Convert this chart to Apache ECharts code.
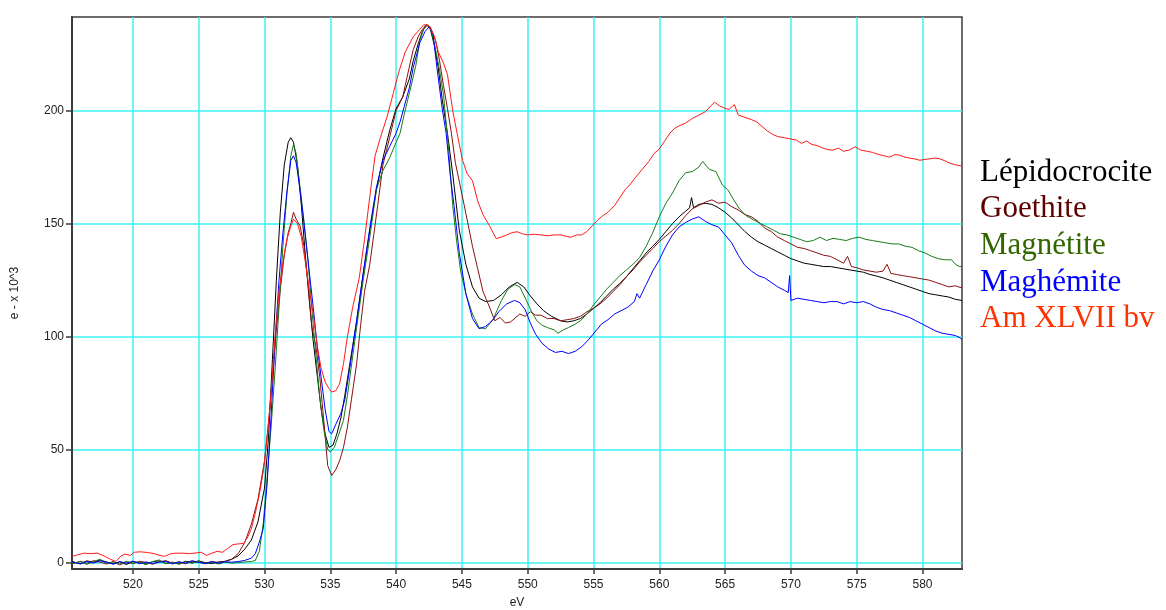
<!DOCTYPE html>
<html><head><meta charset="utf-8">
<script src="https://cdn.jsdelivr.net/npm/echarts@6/dist/echarts.min.js"></script>
<style>html,body{margin:0;padding:0;background:#fff}#c{width:1166px;height:610px}</style>
</head><body><div id="c"></div><script>
const xTicks = [520, 525, 530, 535, 540, 545, 550, 555, 560, 565, 570, 575, 580];
const yTicks = [0, 50, 100, 150, 200];
const seriesNames = ['Lépidocrocite', 'Goethite', 'Magnétite', 'Maghémite', 'Am XLVII bv'];
const lineColors = ['#000000', '#8b1010', '#1a7a1a', '#0000ff', '#ff1a1a'];
const legendColors = ['#000000', '#5c0000', '#336600', '#0000ff', '#ff3300'];

const lepidocrocite = [[515.4,0.5],[516,-0.5],[516.5,0.8],[517,0.2],[517.5,1.2],[518,0.3],[518.5,-0.5],[519,0.4],[519.5,-0.8],[520,0.5],[520.5,0],[521,-0.6],[521.5,0.4],[522,0.8],[522.5,-0.3],[523,0.2],[523.5,-0.5],[524,0.6],[524.5,0.1],[525,0.8],[525.5,0],[526,-0.4],[526.5,0.3],[527,0.6],[527.5,1.5],[528,3],[528.5,6],[529,10],[529.5,18],[530,33],[530.3,55],[530.6,90],[530.9,125],[531.2,155],[531.5,176],[531.8,186],[532,188],[532.2,186],[532.5,176],[532.8,158],[533.1,136],[533.4,116],[533.7,98],[534,83],[534.3,68],[534.6,57],[534.9,51],[535.2,52],[535.5,57],[535.8,64],[536.1,74],[536.4,85],[536.7,96],[537,107],[537.5,128],[538,147],[538.5,165],[539,179],[539.5,191],[540,201],[540.5,206],[541,214],[541.3,222],[541.7,230],[542,235],[542.3,238],[542.6,236],[542.9,229],[543.2,219],[543.5,205],[543.9,190],[544.3,172],[544.8,147],[545.3,132],[545.8,122],[546.3,117],[546.8,115.5],[547.4,116],[548,118.5],[548.6,122],[549.2,124],[549.7,122],[550.2,118],[550.7,114.5],[551.2,111.5],[551.8,109],[552.5,107],[553,106.5],[553.5,107],[554,108],[554.5,110],[555,112.5],[555.5,115],[556,118],[556.5,121],[557,123.5],[557.5,126.5],[558,130],[558.5,133.5],[559,137],[559.5,140],[560,143],[560.5,146.5],[561,150],[561.5,153],[562,155.5],[562.3,157],[562.45,161.5],[562.6,157],[563,158.5],[563.5,159],[564,158.5],[564.5,157],[565,155],[565.5,152.5],[566,149.5],[566.5,146.5],[567,144],[567.5,142],[568,140.5],[568.5,139],[569,137.5],[569.5,136],[570,134.5],[570.5,133.5],[571,132.5],[571.5,132],[572,131.5],[572.5,131],[573,131],[573.5,130.5],[574,130],[574.5,129.5],[575,129],[575.5,128.5],[576,127.5],[576.5,126.8],[577,126],[577.5,125],[578,124],[578.5,123],[579,122],[579.5,121],[580,120],[580.5,119],[581,118.5],[581.5,118],[582,117.5],[582.5,116.5],[583,116]];

const goethite = [[515.4,-0.5],[516,0.6],[516.5,-0.3],[517,0.9],[517.5,0.2],[518,-0.6],[518.5,0.5],[519,-1],[519.5,0.3],[520,-0.4],[520.5,0.6],[521,0.1],[521.5,-0.7],[522,0.4],[522.5,0.9],[523,-0.2],[523.5,0.3],[524,-0.5],[524.5,0.6],[525,0.2],[525.5,-0.3],[526,0.5],[526.5,0.1],[527,0.5],[527.5,1.5],[528,4],[528.5,9],[529,17],[529.5,28],[530,45],[530.3,62],[530.6,81],[530.9,103],[531.2,121],[531.5,136],[531.8,146],[532,150],[532.2,155],[532.4,152],[532.7,149],[533,140],[533.3,124],[533.6,104],[533.9,96],[534.2,82],[534.5,63],[534.8,43],[535.1,38.5],[535.4,41],[535.7,45],[536,51],[536.3,60],[536.6,72],[537,88],[537.3,105],[537.6,120],[538,132],[538.3,145],[538.6,158],[539,176],[539.5,188],[540,200],[540.5,206],[540.8,214],[541.3,227],[541.7,233],[542,236],[542.3,238],[542.6,237],[543,231],[543.3,222],[543.6,211],[543.9,201],[544.2,190],[544.5,177],[545,163],[545.3,154.5],[545.8,140],[546.2,130],[546.6,120],[547.1,113],[547.5,107],[547.9,108.5],[548.3,106],[548.7,106.5],[549.1,108.5],[549.4,110],[549.8,109],[550.2,111],[550.6,109.5],[551,109.5],[551.5,108],[552,108],[552.5,107],[553,107.5],[553.5,108],[554,109],[554.5,111],[555,112.5],[555.5,114.5],[556,117],[556.5,120],[557,123],[557.5,126.5],[558,129.5],[558.5,133],[559,136],[559.5,139],[560,142],[560.5,144.5],[561,147],[561.5,150],[562,153.5],[562.5,156.5],[563,158],[563.5,159.5],[564,160.5],[564.5,159],[565,159.5],[565.5,157.5],[566,156],[566.5,154],[567,153],[567.5,151],[568,148],[568.5,146.5],[569,144],[569.5,142.5],[570,141],[570.5,139.5],[571,139],[571.5,138],[572,137],[572.5,136],[573,135.5],[573.5,134],[574,132.5],[574.3,135.5],[574.6,131],[575,130.5],[575.5,129.5],[576,129],[576.5,128.5],[577,129],[577.3,132],[577.6,128],[578,127.5],[578.5,127],[579,126.5],[579.5,126],[580,125.5],[580.5,125],[581,124],[581.5,123],[582,122],[582.5,122.5],[583,121.5]];

const magnetite = [[515.4,-0.3],[516,0.4],[516.5,-0.8],[517,0.5],[517.5,1.5],[518,-0.4],[518.5,0.3],[519,-0.6],[519.5,0.6],[520,-0.2],[520.5,0.3],[521,-0.9],[521.5,0.5],[522,1.2],[522.5,-0.5],[523,0.2],[523.5,-0.7],[524,0.4],[524.5,-0.3],[525,0.6],[525.5,-0.5],[526,0.2],[526.5,-0.6],[527,0.3],[527.5,-0.2],[528,0],[528.5,0.3],[529,0.5],[529.3,1],[529.6,5],[529.9,17],[530.2,38],[530.5,60],[530.8,85],[531.1,113],[531.4,140],[531.7,163],[532,180],[532.2,185],[532.4,181],[532.7,166],[533,151],[533.3,134],[533.6,112],[533.9,92],[534.2,73],[534.5,59],[534.8,50],[535,49],[535.3,51],[535.6,56],[536,63],[536.3,74],[536.6,87],[537,104],[537.5,125],[538,144],[538.5,165],[539,173.5],[539.5,179],[540,186],[540.3,190],[540.6,198],[541.1,210],[541.5,220],[541.8,231],[542.1,236],[542.4,238],[542.7,235],[543,227],[543.3,218],[543.6,207],[544,182],[544.3,158],[544.6,142],[544.9,129],[545.3,119],[545.8,110],[546.3,104],[546.8,103.5],[547.4,108],[548,116],[548.5,121],[549,123],[549.4,122],[549.9,116],[550.3,111],[550.7,107],[551.1,105],[551.5,104],[552,103],[552.3,101.5],[552.7,103],[553.1,104],[553.6,105.5],[554,107],[554.5,110],[555,114],[555.5,117.5],[556,121],[556.5,124],[557,127],[557.5,129.5],[558,132],[558.5,135],[559,140],[559.5,146],[560,153],[560.5,159],[561,163.5],[561.5,169],[562,172.5],[562.5,173],[563,175],[563.3,177.5],[563.8,174],[564.3,173],[564.8,167],[565.2,165],[565.6,161],[566.1,156.5],[566.6,153.5],[567.2,151.5],[567.7,150],[568.2,148.5],[568.7,147],[569.2,145.5],[569.7,145],[570.2,144],[570.7,143],[571.2,142],[571.7,142.5],[572.2,144],[572.7,142.5],[573.2,143.5],[573.7,143],[574.2,142.5],[574.7,143.5],[575.2,144],[575.7,143],[576.2,142.5],[576.7,142],[577.2,141.5],[577.7,141],[578.2,141],[578.7,140],[579.2,139.5],[579.7,138],[580.2,137],[580.7,135.5],[581.2,134.5],[581.7,134],[582.2,134],[582.5,132],[582.8,131],[583,131]];

const maghemite = [[515.4,0.3],[516,-0.6],[516.5,0.5],[517,-0.2],[517.5,0.8],[518,0.2],[518.5,-0.7],[519,0.5],[519.5,-0.3],[520,0.7],[520.5,-0.5],[521,0.3],[521.5,-0.4],[522,0.2],[522.5,0.6],[523,-0.6],[523.5,0.4],[524,-0.2],[524.5,0.9],[525,0.1],[525.5,-0.4],[526,0.5],[526.5,-0.3],[527,0.4],[527.5,0.2],[528,0.5],[528.5,1],[529,2],[529.3,4],[529.6,9],[529.9,15],[530.2,35],[530.5,65],[530.8,98],[531.1,125],[531.4,146],[531.7,164],[532,178],[532.2,180],[532.4,177],[532.7,165],[533,150],[533.3,134],[533.7,113],[534,96],[534.3,82],[534.6,68],[534.9,58],[535.1,57],[535.4,61],[535.8,66],[536.1,72],[536.5,87],[537,107],[537.5,128],[538,148],[538.5,166],[539,178],[539.5,184],[540,190],[540.3,195],[540.6,201.5],[541,210],[541.3,219],[541.8,230],[542.2,235],[542.5,237],[542.8,234],[543.1,219],[543.5,201],[543.8,190],[544.1,172],[544.4,158],[544.8,137],[545.3,119],[545.8,108],[546.3,103.5],[546.8,104.5],[547.3,107],[547.8,111],[548.4,114.5],[549,116],[549.4,115],[549.8,112],[550.2,106],[550.6,101],[551.1,97],[551.6,94.5],[552.1,93],[552.6,93.5],[553.1,92.5],[553.6,93.5],[554.1,95.5],[554.6,98.5],[555.1,102],[555.6,105.5],[556.1,107.5],[556.6,110],[557.1,111.5],[557.6,113],[558.1,115.5],[558.3,119],[558.5,117],[559,123],[559.5,129],[560,134],[560.5,140],[561,145],[561.5,148.5],[562,150.5],[562.5,152],[563,153],[563.5,151],[564,149.5],[564.5,148.5],[565,145],[565.5,141.5],[566,136],[566.5,131.5],[567,129],[567.5,127],[568,126],[568.5,124],[569,122],[569.5,120.5],[569.8,119.5],[569.9,127],[570,116],[570.5,117],[571,116.5],[571.5,116],[572,115.5],[572.5,115],[573,115.5],[573.5,115.5],[574,114.5],[574.5,115.5],[575,115],[575.5,115.5],[576,114.5],[576.5,113],[577,112],[577.5,111.5],[578,110.5],[578.5,109.5],[579,108.5],[579.5,107],[580,105.5],[580.5,104],[581,102.5],[581.5,101.5],[582,101],[582.5,100.5],[583,99]];

const amXLVIIbv = [[515.4,2.8],[515.8,3.5],[516.3,4.2],[516.8,4],[517.3,4.2],[517.8,3],[518.3,1.5],[518.7,0.5],[519.1,3],[519.4,3.8],[519.8,3.2],[520.1,4.6],[520.6,4.8],[521.1,4.5],[521.6,4],[522,3.3],[522.4,2.8],[522.8,3.8],[523.2,4.2],[523.8,4.2],[524.3,4],[524.8,4.3],[525.2,4.6],[525.6,3.2],[526,4.2],[526.4,5],[526.8,4.6],[527.2,6.3],[527.6,8],[528,8.3],[528.4,8.5],[528.7,11],[529,15],[529.3,22],[529.6,30],[529.9,40],[530.2,55],[530.5,75],[530.8,100],[531.1,120],[531.4,133],[531.7,143],[532,149],[532.2,152],[532.5,150],[532.8,144],[533.1,133],[533.4,121],[533.7,110],[534,96],[534.3,86],[534.6,80],[534.9,77],[535.1,75.5],[535.4,76],[535.7,79],[536,88],[536.3,100],[536.7,113],[537.2,126],[537.6,143],[538,162],[538.4,180],[538.8,188],[539.3,197],[539.8,208],[540.2,217],[540.7,226],[541.3,232.7],[541.8,236],[542.1,238],[542.5,237.5],[542.9,233],[543.2,226],[543.6,221],[543.9,216],[544.3,200],[544.7,188],[545.05,178],[545.4,172],[545.8,169],[546.2,160],[546.6,154],[547.1,149],[547.6,143.4],[548,144],[548.4,145],[548.8,146],[549.2,146.4],[549.6,145.5],[550,145],[550.5,145.3],[551,145],[551.5,144.6],[552,145],[552.5,145],[553,144.3],[553.3,144],[553.7,145],[554.1,145],[554.5,146.5],[554.9,149],[555.3,151.5],[555.7,153.5],[556.1,155],[556.6,158],[557,161.5],[557.4,165],[557.8,167.5],[558.2,170.5],[558.7,174],[559.2,177.5],[559.6,181],[560,183],[560.4,186.5],[560.8,190],[561.2,192.3],[561.6,193.5],[562,194.5],[562.5,196.5],[563,198],[563.5,199.5],[563.9,202],[564.2,203.7],[564.6,202],[565,201],[565.3,200.5],[565.7,202.7],[566,198],[566.5,197],[567,196],[567.4,195],[567.8,193],[568.2,191],[568.6,189.5],[569,188.5],[569.5,188],[570,187.4],[570.4,187],[570.8,185.5],[571.2,186.5],[571.6,185],[572,184.5],[572.4,183.5],[572.8,182.7],[573.2,182.5],[573.6,183.4],[574,182],[574.4,182.5],[574.9,184],[575.3,182.5],[575.8,182],[576.2,181.5],[576.7,180.5],[577.1,180],[577.5,179.4],[577.9,180.5],[578.2,180.4],[578.6,179.5],[579,179],[579.5,178.5],[579.8,178],[580.3,178.5],[580.7,178.8],[581,179],[581.4,178.5],[581.8,177.5],[582.1,176.7],[582.5,176],[583,175.5]];

const seriesData = [lepidocrocite, goethite, magnetite, maghemite, amXLVIIbv];

const chart = echarts.init(document.getElementById('c'), null, {renderer: 'canvas'});
const gridCyan = '#3ef2f2';
const axisCol = '#3c3c3c';
const option = {
  animation: false,
  backgroundColor: '#ffffff',
  grid: {left: 72, right: 204, top: 17, bottom: 41, show: true, borderColor: axisCol, borderWidth: 1.5, backgroundColor: 'transparent', containLabel: false, outerBoundsMode: 'none'},
  xAxis: {
    type: 'value', min: 515.37, max: 583, name: 'eV', nameLocation: 'middle', nameGap: 28,
    nameTextStyle: {fontFamily: 'Liberation Sans', fontSize: 12, color: '#222'},
    axisLine: {show: true, onZero: false, lineStyle: {color: axisCol, width: 2}},
    axisTick: {show: true, length: 5, customValues: xTicks, lineStyle: {color: axisCol, width: 1.5}},
    axisLabel: {customValues: xTicks, margin: 10, fontFamily: 'Liberation Sans', fontSize: 12, color: '#222'},
    splitLine: {show: true, lineStyle: {color: gridCyan, width: 1.5}}
  },
  yAxis: {
    type: 'value', min: -2.8, max: 241.4, name: 'e - x 10^3', nameLocation: 'middle', nameGap: 51, nameRotate: 90,
    nameTextStyle: {fontFamily: 'Liberation Sans', fontSize: 12, color: '#222'},
    axisLine: {show: true, onZero: false, lineStyle: {color: axisCol, width: 2}},
    axisTick: {show: true, length: 6, customValues: yTicks, lineStyle: {color: axisCol, width: 1.5}},
    axisLabel: {customValues: yTicks, margin: 8, fontFamily: 'Liberation Sans', fontSize: 12, color: '#222'},
    splitLine: {show: true, lineStyle: {color: gridCyan, width: 1.5}}
  },
  series: seriesData.map((d, i) => ({
    name: seriesNames[i], type: 'line', data: d, showSymbol: false, symbol: 'none',
    lineStyle: {color: lineColors[i], width: 1}, itemStyle: {color: lineColors[i]}, z: 3
  })),
  graphic: seriesNames.map((n, i) => ({
    type: 'text', x: 980, y: 172.5 + i * 36.7,
    style: {text: n, fill: legendColors[i], fontFamily: 'Liberation Serif', fontSize: 31, verticalAlign: 'middle', align: 'left'}
  }))
};
chart.setOption(option);
</script></body></html>
